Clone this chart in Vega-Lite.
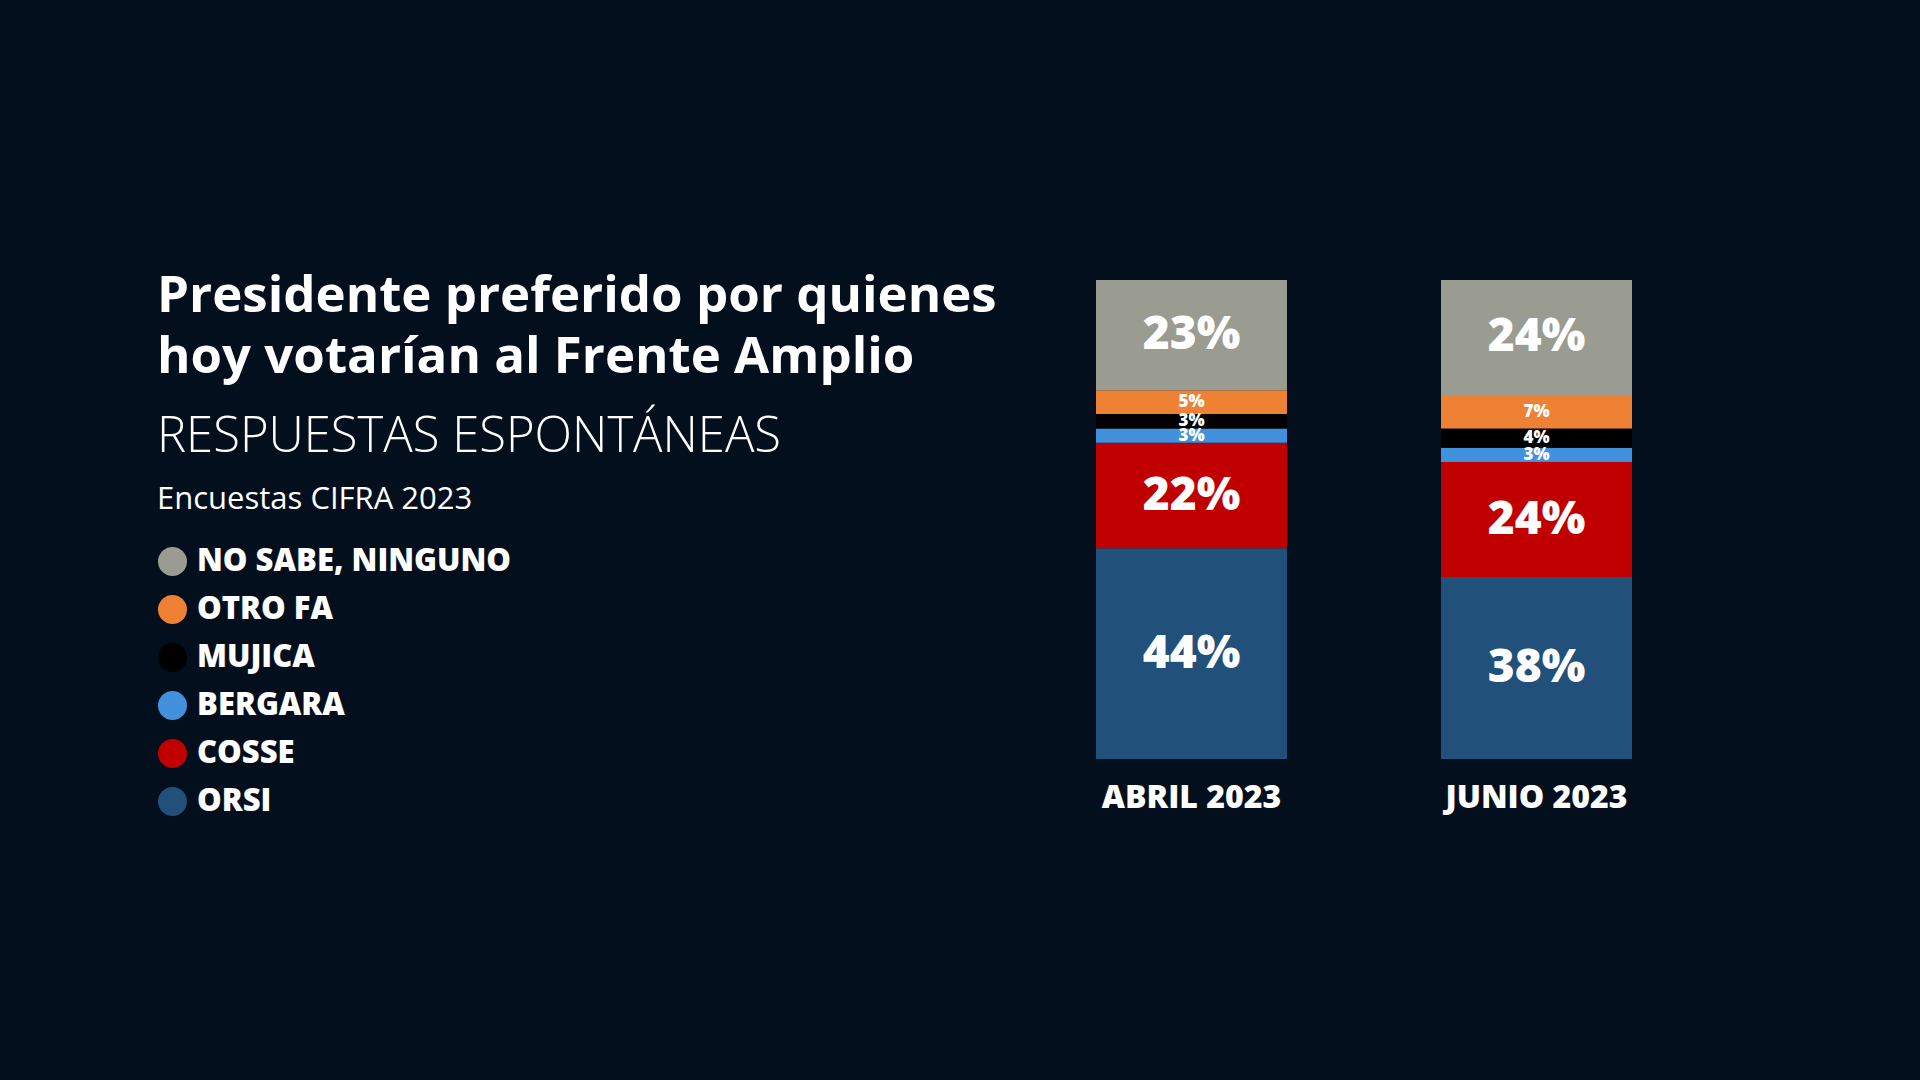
{
  "$schema": "https://vega.github.io/schema/vega-lite/v6.json",
  "autosize": {"type": "none"},
  "width": 536,
  "height": 479,
  "padding": {"left": 1096, "top": 280, "right": 288, "bottom": 321},
  "background": "#040f1e",
  "config": {
    "view": {"stroke": null},
    "font": "Open Sans"
  },
  "title": {
    "text": ["Presidente preferido por quienes", "hoy votarían al Frente Amplio"],
    "subtitle": "RESPUESTAS ESPONTÁNEAS",
    "anchor": "start",
    "frame": "group",
    "dx": -939,
    "dy": 183,
    "offset": 0,
    "font": "Open Sans",
    "fontSize": 51,
    "fontWeight": 700,
    "lineHeight": 61,
    "color": "#ffffff",
    "subtitleFont": "Open Sans",
    "subtitleFontSize": 49,
    "subtitleFontWeight": 300,
    "subtitleColor": "#ffffff",
    "subtitlePadding": 29
  },
  "data": {
    "values": [
      {"mes": "ABRIL 2023", "candidato": "ORSI", "value": 0.44, "orden": 1},
      {"mes": "ABRIL 2023", "candidato": "COSSE", "value": 0.22, "orden": 2},
      {"mes": "ABRIL 2023", "candidato": "BERGARA", "value": 0.03, "orden": 3},
      {"mes": "ABRIL 2023", "candidato": "MUJICA", "value": 0.03, "orden": 4},
      {"mes": "ABRIL 2023", "candidato": "OTRO FA", "value": 0.05, "orden": 5},
      {"mes": "ABRIL 2023", "candidato": "NO SABE, NINGUNO", "value": 0.23, "orden": 6},
      {"mes": "JUNIO 2023", "candidato": "ORSI", "value": 0.38, "orden": 1},
      {"mes": "JUNIO 2023", "candidato": "COSSE", "value": 0.24, "orden": 2},
      {"mes": "JUNIO 2023", "candidato": "BERGARA", "value": 0.03, "orden": 3},
      {"mes": "JUNIO 2023", "candidato": "MUJICA", "value": 0.04, "orden": 4},
      {"mes": "JUNIO 2023", "candidato": "OTRO FA", "value": 0.07, "orden": 5},
      {"mes": "JUNIO 2023", "candidato": "NO SABE, NINGUNO", "value": 0.24, "orden": 6}
    ]
  },
  "encoding": {
    "x": {
      "field": "mes",
      "type": "nominal",
      "sort": ["ABRIL 2023", "JUNIO 2023"],
      "scale": {"paddingInner": 0.4464, "paddingOuter": 0},
      "axis": {
        "title": null,
        "orient": "bottom",
        "domain": false,
        "ticks": false,
        "tickSize": 0,
        "labelAngle": 0,
        "labelPadding": 23,
        "labelLimit": 400,
        "labelFont": "Open Sans",
        "labelFontSize": 32,
        "labelFontWeight": 800,
        "labelColor": "#ffffff"
      }
    },
    "y": {
      "field": "value",
      "type": "quantitative",
      "stack": "zero",
      "scale": {"domain": [0, 1], "nice": false},
      "axis": null
    },
    "order": {"field": "orden", "type": "quantitative", "sort": "ascending"}
  },
  "layer": [
    {
      "mark": {"type": "bar", "strokeWidth": 0},
      "encoding": {
        "color": {
          "field": "candidato",
          "type": "nominal",
          "scale": {
            "domain": ["NO SABE, NINGUNO", "OTRO FA", "MUJICA", "BERGARA", "COSSE", "ORSI"],
            "range": ["#9a9b91", "#ee8133", "#000000", "#4291dd", "#c00000", "#21507b"]
          },
          "legend": {
            "title": "Encuestas CIFRA 2023",
            "orient": "none",
            "legendX": -939,
            "legendY": 205,
            "padding": 0,
            "titleFont": "Open Sans",
            "titleFontSize": 31,
            "titleFontWeight": 500,
            "titleColor": "#ffffff",
            "titlePadding": 30,
            "titleLimit": 800,
            "symbolType": "circle",
            "symbolSize": 841,
            "symbolStrokeWidth": 0,
            "symbolOpacity": 1,
            "labelFont": "Open Sans",
            "labelFontSize": 31,
            "labelFontWeight": 800,
            "labelColor": "#ffffff",
            "labelOffset": 9,
            "rowPadding": 16,
            "labelLimit": 800
          }
        }
      }
    },
    {
      "mark": {"type": "text", "color": "#ffffff", "font": "Open Sans", "fontWeight": 800, "baseline": "middle", "align": "center"},
      "encoding": {
        "y": {
          "field": "value",
          "type": "quantitative",
          "stack": "zero",
          "bandPosition": 0.5
        },
        "text": {"field": "value", "type": "quantitative", "format": ".0%"},
        "size": {
          "condition": {"test": "datum.value >= 0.1", "value": 46},
          "value": 17
        }
      }
    }
  ]
}
